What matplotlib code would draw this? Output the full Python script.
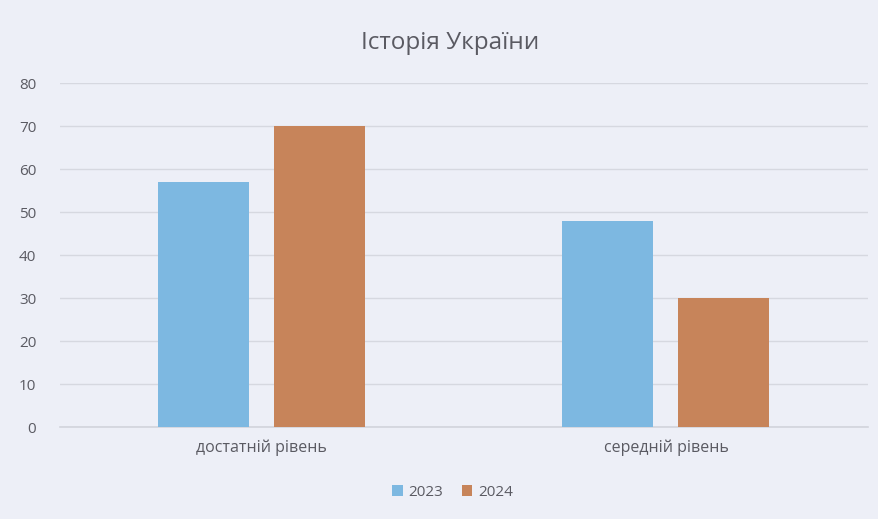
import matplotlib
matplotlib.use("Agg")
import matplotlib.pyplot as plt
import numpy as np

categories = ["достатній рівень", "середній рівень"]
series_names = ["2023", "2024"]
values_2023 = [57, 48]
values_2024 = [70, 30]
yticks = [0, 10, 20, 30, 40, 50, 60, 70, 80]
title = "Історія України"

plt.rcParams['font.family'] = ['Open Sans', 'DejaVu Sans']

bg = "#edeff7"
c2023 = "#7db8e1"
c2024 = "#c7845a"
text_c = "#5a5a62"

fig = plt.figure(figsize=(8.79, 5.19), dpi=100, facecolor=bg)
ax = fig.add_axes([0.068, 0.177, 0.9195, 0.663], facecolor=bg)

x = np.arange(len(categories))
w = 0.225
gap = 0.062
ax.bar(x - (w + gap) / 2, values_2023, width=w, color=c2023, label=series_names[0], zorder=3)
ax.bar(x + (w + gap) / 2, values_2024, width=w, color=c2024, label=series_names[1], zorder=3)

ax.set_xlim(-0.5, len(categories) - 0.5)
ax.set_ylim(0, 80)
ax.set_yticks(yticks)
ax.set_yticklabels([str(v) for v in yticks])
ax.set_xticks(x)
ax.set_xticklabels(categories, fontsize=11.5)
ax.tick_params(axis='y', length=0, labelsize=11, colors=text_c, pad=17)
ax.tick_params(axis='x', length=0, colors=text_c, pad=9)
ax.grid(axis='y', color="#d6d8e0", linewidth=1, zorder=0)
ax.axhline(0, color="#d2d4dc", linewidth=1.2, zorder=2, clip_on=False)
for s in ax.spines.values():
    s.set_visible(False)

fig.text(0.512, 0.917, title, ha='center', va='center', fontsize=17.5, color=text_c)

fig.legend(loc='center', bbox_to_anchor=(0.515, 0.052), ncol=2, frameon=False,
           fontsize=11, labelcolor=text_c, handlelength=0.7, handleheight=0.7,
           handletextpad=0.4, columnspacing=1.2)

fig.savefig("out.png", dpi=100, facecolor=bg)
